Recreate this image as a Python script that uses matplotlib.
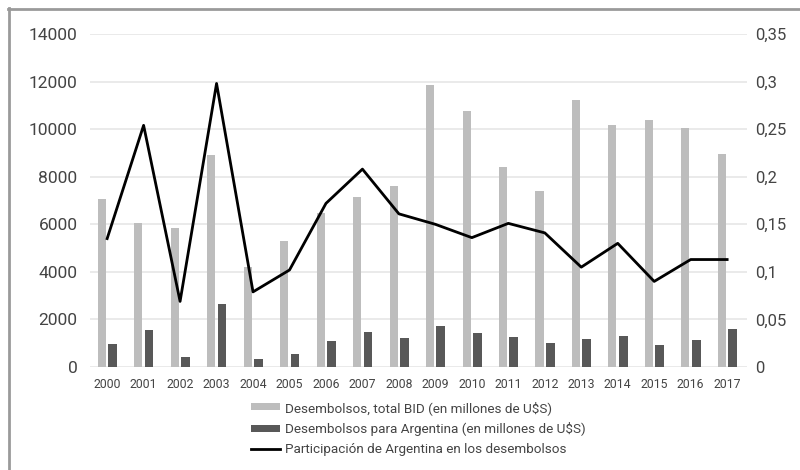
#Desembolsos BID vs Argentina, 2000-2017
import numpy as np
import matplotlib.pyplot as plt
from matplotlib.lines import Line2D

years = ['2000','2001','2002','2003','2004','2005','2006','2007','2008',
         '2009','2010','2011','2012','2013','2014','2015','2016','2017']

TotalBID = [7060,6050,5850,8900,4200,5300,6470,7150,7600,
            11850,10760,8400,7400,11220,10170,10380,10050,8950]

Argentina = [970,1555,420,2650,340,550,1095,1470,1220,
             1720,1430,1260,1010,1180,1300,925,1135,1600]

Participacion = [0.135,0.254,0.069,0.298,0.079,0.102,0.172,0.208,0.161,
                 0.150,0.136,0.151,0.141,0.105,0.130,0.090,0.113,0.113]

LeftTicks = [0,2000,4000,6000,8000,10000,12000,14000]
RightTicks = [0,0.05,0.1,0.15,0.2,0.25,0.3,0.35]
RightLabels = ['0','0,05','0,1','0,15','0,2','0,25','0,3','0,35']

plt.rcParams['font.family'] = ['Roboto','DejaVu Sans']

fig = plt.figure(figsize=(8,4.7),dpi=100)
ax = fig.add_axes([0.1125,0.219,0.8215,0.7087])
ax2 = ax.twinx()

x = np.arange(len(years))

b1 = ax.bar(x-0.145,TotalBID,width=0.22,color='#bdbdbd',label='Desembolsos, total BID (en millones de U$S)',zorder=2)
b2 = ax.bar(x+0.15,Argentina,width=0.24,color='#585858',label='Desembolsos para Argentina (en millones de U$S)',zorder=2)
l1, = ax2.plot(x,Participacion,color='black',linewidth=2,label='Participación de Argentina en los desembolsos')

ax.set_xlim(-0.47,17.55)
ax.set_ylim(0,14000)
ax2.set_ylim(0,0.35)

ax.set_yticks(LeftTicks)
ax.set_yticklabels([str(t) for t in LeftTicks])
ax2.set_yticks(RightTicks)
ax2.set_yticklabels(RightLabels)
ax.set_xticks(x)
ax.set_xticklabels(years)

ax.yaxis.grid(True,color='#e6e6e6',linewidth=1.2,zorder=0)
ax.set_axisbelow(True)

for a in [ax,ax2]:
	for s in a.spines.values():
		s.set_visible(False)

ax.tick_params(axis='y',length=0,pad=9,labelsize=12.5,labelcolor='#444444')
ax2.tick_params(axis='y',length=0,pad=6,labelsize=12,labelcolor='#444444')
ax.tick_params(axis='x',length=0,pad=8,labelsize=8.8,labelcolor='#444444')

fig.legend(handles=[b1,b2,l1],loc='upper left',bbox_to_anchor=(0.305,0.162),
	frameon=False,fontsize=9.7,labelcolor='#444444',handlelength=2.15,
	handleheight=0.42,handletextpad=0.4,labelspacing=0.55,borderpad=0)

# gray frame, only top and left visible
fig.add_artist(Line2D([8/800,1],[1-9/470,1-9/470],transform=fig.transFigure,color='#9a9a9a',linewidth=2))
fig.add_artist(Line2D([9/800,9/800],[0,1-8/470],transform=fig.transFigure,color='#9a9a9a',linewidth=2))

plt.savefig('out.png')
plt.close()
